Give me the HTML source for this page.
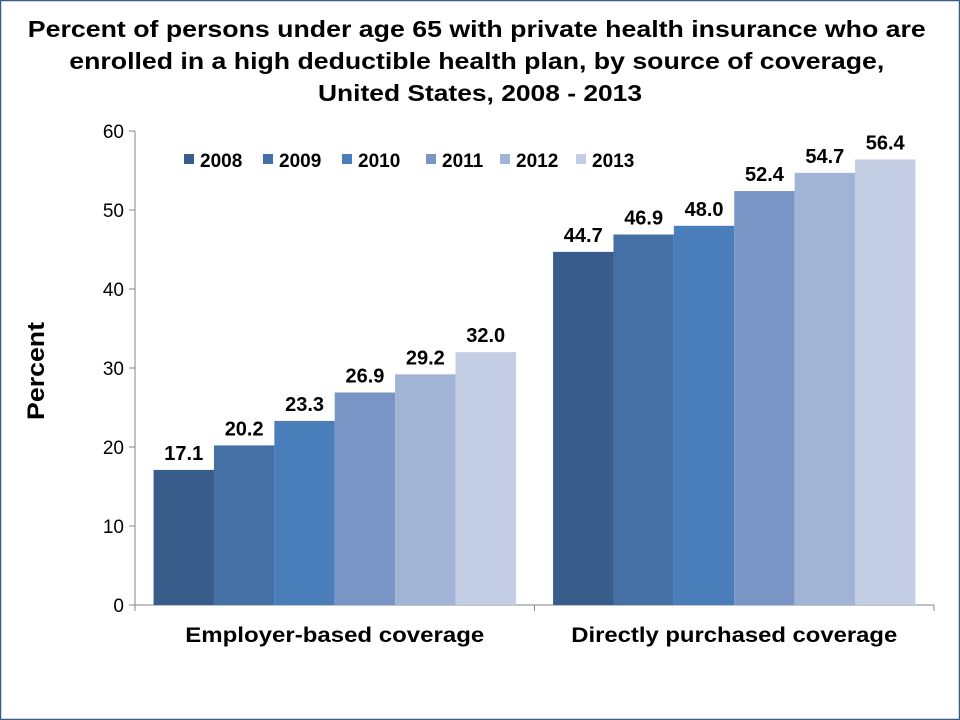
<!DOCTYPE html>
<html><head><meta charset="utf-8"><style>
html,body{margin:0;padding:0;background:#fff}
svg{display:block;font-family:"Liberation Sans",Arial,sans-serif}
</style></head><body>
<svg id="chart" width="960" height="720" viewBox="0 0 960 720">
<rect x="0.5" y="0.5" width="959" height="719" fill="#fff" stroke="#385D8A" stroke-width="1.5"/>
<text text-anchor="middle" font-size="23" font-weight="bold" lengthAdjust="spacingAndGlyphs">
<tspan x="480" y="37" textLength="898" lengthAdjust="spacingAndGlyphs">Percent of persons under age 65 with private health insurance who are</tspan>
<tspan x="480" y="69" textLength="815" lengthAdjust="spacingAndGlyphs">enrolled in a high deductible health plan, by source of coverage,</tspan>
<tspan x="480" y="101" textLength="324" lengthAdjust="spacingAndGlyphs">United States, 2008 - 2013</tspan></text>
<text transform="translate(44,371) rotate(-90)" text-anchor="middle" font-size="24" font-weight="bold" textLength="98" lengthAdjust="spacingAndGlyphs">Percent</text>
<g id="axes"></g><g id="bars"></g><g id="legend"></g>
</svg>
<script>
const categories = ["Employer-based coverage", "Directly purchased coverage"];
const seriesNames = ["2008","2009","2010","2011","2012","2013"];
const s2008 = [17.1, 44.7];
const s2009 = [20.2, 46.9];
const s2010 = [23.3, 48.0];
const s2011 = [26.9, 52.4];
const s2012 = [29.2, 54.7];
const s2013 = [32.0, 56.4];
const yTicks = [0,10,20,30,40,50,60];
const series = [s2008,s2009,s2010,s2011,s2012,s2013];
const colors = ["#385D8A","#4470A6","#4A7EBB","#7895C6","#A2B4D6","#C3CDE3"];
const NS="http://www.w3.org/2000/svg";
const X0=135, X1=934, Y0=605, Y1=131;
const yScale=v=>Y0-(v-0)/(60-0)*(Y0-Y1);
const catW=(X1-X0)/categories.length;
const barW=catW*0.907/series.length;
function mk(tag,attrs,parent){const e=document.createElementNS(NS,tag);for(const k in attrs)e.setAttribute(k,attrs[k]);parent.appendChild(e);return e;}
const axes=document.getElementById('axes'),bars=document.getElementById('bars'),legend=document.getElementById('legend');
let yl=mk('line',{x1:X0,x2:X0,y1:Y1,y2:Y0,stroke:'#868686'},axes);


let xl=mk('line',{x1:X0,x2:X1,y1:Y0,y2:Y0,stroke:'#868686'},axes);


yTicks.forEach(t=>{const y=yScale(t);
 let tk=mk('line',{x1:X0-6,x2:X0,y1:y,y2:y,stroke:'#868686'},axes);
 
 
 let tx=mk('text',{x:X0-11,y:y+7,'text-anchor':'end','font-size':19},axes);tx.textContent=t;
 
 
});
for(let c=0;c<=categories.length;c++){let tk=mk('line',{x1:X0+c*catW,x2:X0+c*catW,y1:Y0,y2:Y0+6,stroke:'#868686'},axes);
 
 }
const catLabelW=[299,326];
categories.forEach((cat,c)=>{
 const cx=X0+catW*(c+0.5);
 let tx=mk('text',{x:cx,y:642,'text-anchor':'middle','font-size':21,'font-weight':'bold',textLength:catLabelW[c],lengthAdjust:'spacingAndGlyphs'},axes);tx.textContent=cat;
 
 
 const start=cx-barW*series.length/2;
 series.forEach((s,i)=>{
  const v=s[c],x=start+i*barW,y=yScale(v);
  let r=mk('rect',{x:x,y:y,width:barW,height:Y0-y,fill:colors[i]},bars);
  
  
  let l=mk('text',{x:x+barW/2,y:y-10,'text-anchor':'middle','font-size':20,'font-weight':'bold'},bars);l.textContent=v.toFixed(1);
  
  
 });
});
const lx=[184,263,342,426,500,576];
seriesNames.forEach((n,i)=>{
 const g=mk('g',{},legend);
 
 
 mk('rect',{x:lx[i],y:154,width:10,height:10,fill:colors[i]},g);
 let t=mk('text',{x:lx[i]+16,y:167,'font-size':19,'font-weight':'bold'},g);t.textContent=n;
});
</script>
</body></html>
